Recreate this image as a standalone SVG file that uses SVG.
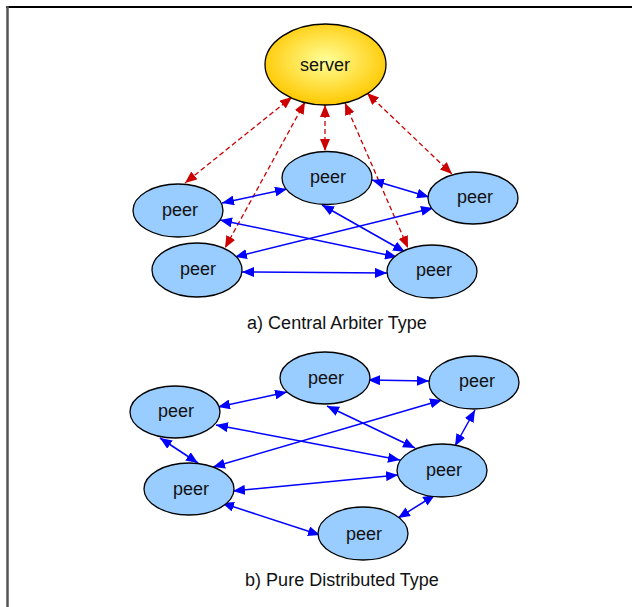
<svg xmlns="http://www.w3.org/2000/svg" width="632" height="607" viewBox="0 0 632 607">
  <defs>
    <radialGradient id="serverFill" cx="50%" cy="45%" r="55%">
      <stop offset="0" stop-color="#ffff99"/>
      <stop offset="1" stop-color="#ffc800"/>
    </radialGradient>
    <marker id="headBlue" viewBox="0 0 12 10" refX="12" refY="5" markerWidth="12" markerHeight="10" markerUnits="userSpaceOnUse" orient="auto-start-reverse">
      <path d="M0,0 L12,5 L0,10 Z" fill="#0000ff"/>
    </marker>
    <marker id="headRed" viewBox="0 0 12 10" refX="12" refY="5" markerWidth="12" markerHeight="10" markerUnits="userSpaceOnUse" orient="auto-start-reverse">
      <path d="M0,0 L12,5 L0,10 Z" fill="#cc0000"/>
    </marker>
  </defs>
  <style>
    .frame-top { stroke: #000; stroke-width: 2; }
    .frame-left { stroke: #555; stroke-width: 2.5; }
    .peer { fill: #99ccff; stroke: #000; stroke-width: 1.3; }
    .server { fill: url(#serverFill); stroke: #000; stroke-width: 1.3; }
    .lbl { font-family: "Liberation Sans", Arial, sans-serif; font-size: 18px; fill: #111; text-anchor: middle; }
    .cap { font-family: "Liberation Sans", Arial, sans-serif; font-size: 18px; fill: #111; text-anchor: middle; }
    .link { stroke: #0000ff; stroke-width: 1.5; fill: none; marker-start: url(#headBlue); marker-end: url(#headBlue); }
    .ctl { stroke: #cc0000; stroke-width: 1.3; fill: none; stroke-dasharray: 5 3; marker-start: url(#headRed); marker-end: url(#headRed); }
  </style>

  <!-- page frame -->
  <line class="frame-top" x1="6" y1="7" x2="632" y2="7"/>
  <line class="frame-left" x1="7.5" y1="6" x2="7.5" y2="607"/>

  <!-- connectors -->
  <g id="connectors">
    <!-- a) server control links -->
    <line class="ctl" x1="292" y1="97" x2="185" y2="183"/>
    <line class="ctl" x1="305" y1="102" x2="225" y2="248"/>
    <line class="ctl" x1="325" y1="105" x2="325" y2="151"/>
    <line class="ctl" x1="345" y1="103" x2="408" y2="248"/>
    <line class="ctl" x1="367" y1="93" x2="452" y2="174"/>
    <!-- a) peer links -->
    <line class="link" x1="222" y1="203" x2="287" y2="189"/>
    <line class="link" x1="372" y1="180" x2="429" y2="197"/>
    <line class="link" x1="220" y1="220" x2="397" y2="257"/>
    <line class="link" x1="235" y1="257" x2="433" y2="208"/>
    <line class="link" x1="242" y1="272" x2="387" y2="273"/>
    <line class="link" x1="322" y1="205" x2="405" y2="252"/>
    <!-- b) peer links -->
    <line class="link" x1="218" y1="407" x2="287" y2="392"/>
    <line class="link" x1="368" y1="380" x2="429" y2="381"/>
    <line class="link" x1="327" y1="406" x2="415" y2="448"/>
    <line class="link" x1="216" y1="425" x2="400" y2="460"/>
    <line class="link" x1="213" y1="467" x2="442" y2="400"/>
    <line class="link" x1="233" y1="491" x2="398" y2="475"/>
    <line class="link" x1="160" y1="438" x2="198" y2="463"/>
    <line class="link" x1="475" y1="410" x2="455" y2="446"/>
    <line class="link" x1="435" y1="495" x2="398" y2="518"/>
    <line class="link" x1="222" y1="503" x2="320" y2="535"/>
  </g>

  <!-- a) Central Arbiter Type -->
  <g id="server">
    <ellipse class="server" cx="325.5" cy="64.5" rx="60.5" ry="40.5"/>
    <text class="lbl" x="325" y="71">server</text>
  </g>
  <g id="a-peer-1">
    <ellipse class="peer" cx="178" cy="210.5" rx="45" ry="26.5"/>
    <text class="lbl" x="180" y="216">peer</text>
  </g>
  <g id="a-peer-2">
    <ellipse class="peer" cx="327" cy="178" rx="45" ry="26.5"/>
    <text class="lbl" x="328" y="183">peer</text>
  </g>
  <g id="a-peer-3">
    <ellipse class="peer" cx="473" cy="198" rx="45" ry="26"/>
    <text class="lbl" x="475" y="203">peer</text>
  </g>
  <g id="a-peer-4">
    <ellipse class="peer" cx="197" cy="270" rx="45" ry="27"/>
    <text class="lbl" x="198" y="275">peer</text>
  </g>
  <g id="a-peer-5">
    <ellipse class="peer" cx="432" cy="271.5" rx="45" ry="26.5"/>
    <text class="lbl" x="434" y="276">peer</text>
  </g>
  <text class="cap" x="337" y="329">a) Central Arbiter Type</text>

  <!-- b) Pure Distributed Type -->
  <g id="b-peer-1">
    <ellipse class="peer" cx="325" cy="378" rx="45" ry="26"/>
    <text class="lbl" x="326" y="384">peer</text>
  </g>
  <g id="b-peer-2">
    <ellipse class="peer" cx="474" cy="382.5" rx="45" ry="26.5"/>
    <text class="lbl" x="477" y="387">peer</text>
  </g>
  <g id="b-peer-3">
    <ellipse class="peer" cx="175" cy="412" rx="45" ry="26"/>
    <text class="lbl" x="176" y="417">peer</text>
  </g>
  <g id="b-peer-4">
    <ellipse class="peer" cx="442" cy="470.5" rx="45" ry="26.5"/>
    <text class="lbl" x="444" y="476">peer</text>
  </g>
  <g id="b-peer-5">
    <ellipse class="peer" cx="189" cy="489" rx="45" ry="26"/>
    <text class="lbl" x="191" y="495">peer</text>
  </g>
  <g id="b-peer-6">
    <ellipse class="peer" cx="363" cy="533.5" rx="45" ry="26.5"/>
    <text class="lbl" x="364" y="540">peer</text>
  </g>
  <text class="cap" x="342" y="586">b) Pure Distributed Type</text>
</svg>
